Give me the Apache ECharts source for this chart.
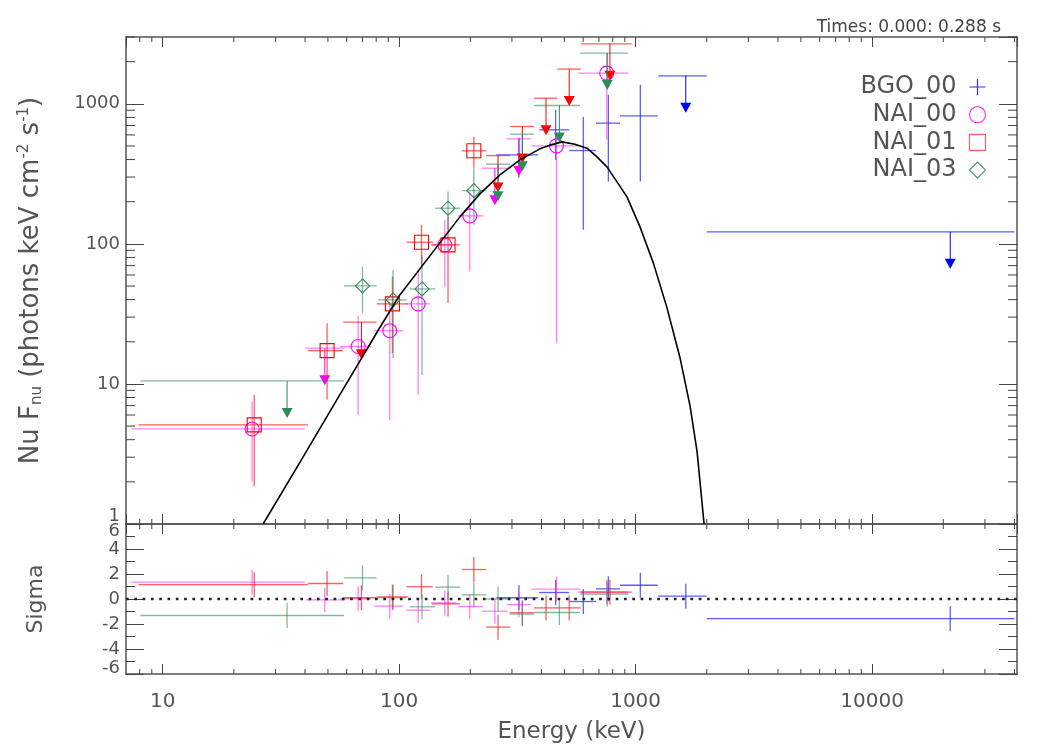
<!DOCTYPE html>
<html>
<head>
<meta charset="utf-8">
<title>Nu Fnu spectrum</title>
<script src="https://cdn.jsdelivr.net/npm/echarts@6/dist/echarts.min.js"></script>
<style>
  html, body { margin: 0; padding: 0; background: #fff; }
  #chart { width: 1050px; height: 750px; }
</style>
</head>
<body>
<div id="chart"></div>
<script>
// energy bins: [centre, low edge, high edge] (keV)
// flux rows: [value, low, high]; low === null means an upper limit at value
const bgoBins = [[321, 258, 387], [459, 391, 524], [601, 524, 680], [767, 680, 859], [1047, 859, 1240], [1630, 1247, 1999], [21400, 1999, 40000]];
const bgoFlux = [[432, 296, 572], [652, 398, 906], [464, 126, 804], [728, 279, 1159], [821, 279, 1367], [1585, null, null], [122, null, null]];
const bgoSigma = [0.1, 0.52, -0.2, 0.81, 1.1, 0.23, -1.57];

const nai00Bins = [[23.9, 7.4, 39.9], [48.5, 40.3, 58.9], [67.1, 56.3, 76], [91.3, 78.2, 104], [120.4, 107.5, 135], [156, 137, 175], [199, 178, 227], [254, 224, 288], [321, 285, 360], [463, 363, 582], [755, 572, 931]];
const nai00Flux = [[4.77, 2.0, 7.5], [18.0, null, null], [18.5, 6.0, 30.6], [24.0, 5.5, 38.7], [37.3, 8.4, 65.2], [98.4, 49.5, 148], [158.5, 63.4, 236], [347, null, null], [562, null, null], [501, 19.5, 620], [1656, 553, 2310]];
const nai00Sigma = [1.35, -0.07, 0.02, -0.57, -0.89, -0.31, -0.6, -0.98, -0.45, 0.79, 0.56];

const nai01Bins = [[24.4, 7.9, 41.2], [49.6, 41.2, 58], [69.3, 58, 80.3], [93.7, 80.3, 109], [124.4, 107.5, 139], [161, 137, 181], [207, 184, 234], [262, 233, 294], [332, 294, 372], [418, 372, 466], [524, 466, 586], [779, 586, 963]];
const nai01Flux = [[5.1, 1.85, 8.35], [17.3, 7.7, 27.1], [27.6, null, null], [37.3, 16.6, 58.4], [102.8, 68.8, 136.7], [98.4, 37.9, 157], [462, 349, 581], [427, null, null], [689, null, null], [1097, null, null], [1770, null, null], [2683, null, null]];
const nai01Sigma = [1.15, 1.24, 0.1, 0.17, 0.98, -0.39, 2.36, -2.25, -1.1, -0.71, -0.71, 0.55];

const nai03Bins = [[33.6, 8.05, 58.5], [70, 58.5, 80.3], [94.3, 81.5, 107.5], [125, 111, 142], [161, 142, 181], [207, 184, 234], [262, 233, 294], [332, 294, 372], [476, 372, 582], [759, 582, 931]];
const nai03Flux = [[10.5, null, null], [50.1, 32, 68.8], [39.8, 15.3, 65.2], [47.7, 11.6, 83.4], [179.8, 125.9, 236.5], [240, 136.7, 347], [371, null, null], [607, null, null], [973, null, null], [2302, null, null]];
const nai03Sigma = [-1.32, 1.69, 0.1, -0.62, 0.95, 0.33, 0.0, -1.2, -1.08, 0.4];

// model curve: [energy, nuFnu]
const modelCurve = [[26.6, 1], [38, 2.74], [56.1, 8.35], [82.9, 25.3], [100.7, 43.2], [134.9, 82.1], [180.7, 155.9], [219.6, 227.6], [266.9, 311], [324.2, 398], [393.9, 477], [434.3, 507], [488.2, 535], [554, 514], [622.9, 482.6], [686.5, 418], [756.8, 354.8], [919.6, 216.6], [1044, 132.2], [1188, 73.2], [1354, 35.5], [1542, 15.3], [1699, 6.97], [1819, 3.3], [1948, 1]];

const xMinorTicks = [8, 9, 20, 30, 40, 50, 60, 70, 80, 90, 200, 300, 400, 500, 600, 700, 800, 900, 2000, 3000, 4000, 5000, 6000, 7000, 8000, 9000, 20000, 30000, 40000];
const fluxMinorTicks = [2, 3, 4, 5, 6, 7, 8, 9, 20, 30, 40, 50, 60, 70, 80, 90, 200, 300, 400, 500, 600, 700, 800, 900, 2000, 3000];
const sigmaMinorTicks = [-5, -3, -1, 1, 3, 5];

const xMin = 7, xMax = 41000, fluxMin = 1, fluxMax = 3000;
const FONT = 'DejaVu Sans';
const TXT = '#555';

const detectors = [
  { name: 'BGO_00', color: '#0000ff', err: 'rgba(40,40,255,0.75)', mark: 'plus', bins: bgoBins, flux: bgoFlux, sigma: bgoSigma },
  { name: 'NAI_00', color: '#ff00ff', err: 'rgba(255,40,255,0.6)', mark: 'circle', bins: nai00Bins, flux: nai00Flux, sigma: nai00Sigma },
  { name: 'NAI_01', color: '#ff0000', err: 'rgba(255,30,30,0.7)', mark: 'square', bins: nai01Bins, flux: nai01Flux, sigma: nai01Sigma },
  { name: 'NAI_03', color: '#2e8b57', err: 'rgba(46,139,87,0.6)', mark: 'diamond', bins: nai03Bins, flux: nai03Flux, sigma: nai03Sigma }
];

const chart = echarts.init(document.getElementById('chart'), null, { renderer: 'canvas' });

function markShape(kind, color, x, y) {
  const st = { fill: 'none', stroke: color, lineWidth: 1.1 };
  if (kind === 'circle') return { type: 'circle', shape: { cx: x, cy: y, r: 7 }, style: st };
  if (kind === 'square') return { type: 'rect', shape: { x: x - 7, y: y - 7, width: 14, height: 14 }, style: st };
  if (kind === 'diamond') return { type: 'polygon', shape: { points: [[x, y - 7], [x + 7, y], [x, y + 7], [x - 7, y]] }, style: st };
  return null;
}

function pointRender(det) {
  return function (params, api) {
    const e = api.value(0), f = api.value(3);
    const c = api.coord([e, f]);
    const xl = api.coord([api.value(1), f])[0];
    const xr = api.coord([api.value(2), f])[0];
    const yt = api.coord([e, api.value(5)])[1];
    const yb = api.coord([e, api.value(4)])[1];
    const st = { stroke: det.err, lineWidth: 1.3 };
    const kids = [
      { type: 'line', shape: { x1: xl, y1: c[1], x2: xr, y2: c[1] }, style: st },
      { type: 'line', shape: { x1: c[0], y1: yt, x2: c[0], y2: yb }, style: st }
    ];
    const m = markShape(det.mark, det.color, c[0], c[1]);
    if (m) kids.push(m);
    return { type: 'group', children: kids };
  };
}

function limitRender(det) {
  return function (params, api) {
    const e = api.value(0), u = api.value(3);
    const p = api.coord([e, u]);
    const xl = api.coord([api.value(1), u])[0];
    const xr = api.coord([api.value(2), u])[0];
    const st = { stroke: det.err, lineWidth: 1.3 };
    return {
      type: 'group',
      children: [
        { type: 'line', shape: { x1: xl, y1: p[1], x2: xr, y2: p[1] }, style: st },
        { type: 'line', shape: { x1: p[0], y1: p[1], x2: p[0], y2: p[1] + 28 }, style: { stroke: det.color, lineWidth: 1 } },
        { type: 'polygon', shape: { points: [[p[0] - 5.5, p[1] + 27], [p[0] + 5.5, p[1] + 27], [p[0], p[1] + 37]] }, style: { fill: det.color } }
      ]
    };
  };
}

function residRender(det) {
  return function (params, api) {
    const e = api.value(0), s = api.value(3);
    const c = api.coord([e, s]);
    const xl = api.coord([api.value(1), s])[0];
    const xr = api.coord([api.value(2), s])[0];
    const yt = api.coord([e, s + 1])[1];
    const yb = api.coord([e, s - 1])[1];
    const st = { stroke: det.err, lineWidth: 1.3 };
    return {
      type: 'group',
      children: [
        { type: 'line', shape: { x1: xl, y1: c[1], x2: xr, y2: c[1] }, style: st },
        { type: 'line', shape: { x1: c[0], y1: yt, x2: c[0], y2: yb }, style: st }
      ]
    };
  };
}

// minor ticks on top & bottom (x) or left & right (y) of a grid
function xTickRender(len) {
  return function (params, api) {
    const cs = params.coordSys;
    const x = api.coord([api.value(0), api.value(1)])[0];
    const st = { stroke: '#444', lineWidth: 1 };
    return {
      type: 'group',
      children: [
        { type: 'line', shape: { x1: x, y1: cs.y, x2: x, y2: cs.y + len }, style: st },
        { type: 'line', shape: { x1: x, y1: cs.y + cs.height, x2: x, y2: cs.y + cs.height - len }, style: st }
      ]
    };
  };
}
function yTickRender(len) {
  return function (params, api) {
    const cs = params.coordSys;
    const y = api.coord([api.value(0), api.value(1)])[1];
    const st = { stroke: '#444', lineWidth: 1 };
    return {
      type: 'group',
      children: [
        { type: 'line', shape: { x1: cs.x, y1: y, x2: cs.x + len, y2: y }, style: st },
        { type: 'line', shape: { x1: cs.x + cs.width, y1: y, x2: cs.x + cs.width - len, y2: y }, style: st }
      ]
    };
  };
}

const series = [];
detectors.forEach(function (det) {
  const pts = [], uls = [], res = [];
  det.bins.forEach(function (b, i) {
    const fl = det.flux[i];
    if (fl[1] === null) uls.push([b[0], b[1], b[2], fl[0]]);
    else pts.push([b[0], b[1], b[2], fl[0], fl[1], fl[2]]);
    res.push([b[0], b[1], b[2], det.sigma[i]]);
  });
  series.push({ name: det.name, type: 'custom', xAxisIndex: 0, yAxisIndex: 0, renderItem: pointRender(det), data: pts, encode: { x: 0, y: 3 }, silent: true });
  series.push({ name: det.name, type: 'custom', xAxisIndex: 0, yAxisIndex: 0, renderItem: limitRender(det), data: uls, encode: { x: 0, y: 3 }, silent: true });
  series.push({ name: det.name, type: 'custom', xAxisIndex: 2, yAxisIndex: 2, renderItem: residRender(det), data: res, encode: { x: 0, y: 3 }, silent: true });
});

series.push({
  type: 'line', xAxisIndex: 0, yAxisIndex: 0, data: modelCurve, showSymbol: false, smooth: false,
  lineStyle: { color: '#000', width: 1.6, join: 'round' }, z: 5, silent: true
});
series.push({
  type: 'line', xAxisIndex: 2, yAxisIndex: 2, data: [[xMin, 0], [xMax, 0]], showSymbol: false,
  lineStyle: { color: '#222', width: 2.7, type: [2.7, 5.6] }, silent: true
});
series.push({ type: 'custom', xAxisIndex: 0, yAxisIndex: 0, renderItem: xTickRender(5), data: xMinorTicks.map(v => [v, 10]), silent: true });
series.push({ type: 'custom', xAxisIndex: 2, yAxisIndex: 2, renderItem: xTickRender(5), data: xMinorTicks.map(v => [v, 0]), silent: true });
series.push({ type: 'custom', xAxisIndex: 0, yAxisIndex: 0, renderItem: yTickRender(9), data: fluxMinorTicks.map(v => [10, v]), silent: true });
series.push({ type: 'custom', xAxisIndex: 2, yAxisIndex: 2, renderItem: yTickRender(9), data: sigmaMinorTicks.map(v => [10, v]), silent: true });

const lineSt = { color: '#555', width: 1.5 };
function xAxis(grid, pos, labels) {
  const ax = {
    gridIndex: grid, type: 'log', min: xMin, max: xMax, position: pos,
    axisLine: { onZero: false, lineStyle: lineSt },
    axisTick: { inside: true, length: 10, lineStyle: { color: '#444', width: 1 } },
    axisLabel: { show: false },
    splitLine: { show: false }
  };
  if (labels) {
    ax.axisLabel = {
      show: true, margin: 18, showMinLabel: false, showMaxLabel: false,
      fontFamily: FONT, fontSize: 20, color: TXT,
      formatter: v => String(Math.round(v))
    };
    ax.name = 'Energy (keV)';
    ax.nameLocation = 'middle';
    ax.nameGap = 47;
    ax.nameTextStyle = { fontFamily: FONT, fontSize: 23, color: TXT };
  }
  return ax;
}

const option = {
  animation: false,
  backgroundColor: '#fff',
  title: {
    text: 'Times: 0.000: 0.288 s', right: 44, top: 14,
    textStyle: { fontFamily: FONT, fontSize: 17, fontWeight: 'normal', color: '#444' }
  },
  legend: {
    orient: 'vertical', align: 'right', right: 62, top: 75, padding: 0,
    itemWidth: 16, itemHeight: 16, itemGap: 3.7, selectedMode: false,
    textStyle: { fontFamily: FONT, fontSize: 24, color: TXT, lineHeight: 24, padding: [0, 8, 0, 0] },
    data: [
      { name: 'BGO_00', icon: 'path://M8,0L8,16M0,8L16,8', itemStyle: { color: 'none', borderColor: '#3030ff', borderWidth: 1.2 } },
      { name: 'NAI_00', icon: 'circle', itemStyle: { color: 'none', borderColor: '#ff30ff', borderWidth: 1.2 } },
      { name: 'NAI_01', icon: 'rect', itemStyle: { color: 'none', borderColor: '#ff6060', borderWidth: 1.2 } },
      { name: 'NAI_03', icon: 'diamond', itemStyle: { color: 'none', borderColor: '#4a9a70', borderWidth: 1.2 } }
    ]
  },
  grid: [
    { left: 126, width: 891, top: 37, height: 487 },
    { left: 126, width: 891, top: 524, height: 150 }
  ],
  xAxis: [xAxis(0, 'bottom', false), xAxis(0, 'top', false), xAxis(1, 'bottom', true), xAxis(1, 'top', false)],
  yAxis: [
    {
      gridIndex: 0, type: 'log', min: fluxMin, max: fluxMax, position: 'left',
      axisLine: { onZero: false, lineStyle: lineSt },
      axisTick: { inside: true, length: 18, lineStyle: { color: '#444', width: 1 } },
      splitLine: { show: false },
      axisLabel: {
        margin: 6, showMaxLabel: false, fontFamily: FONT, fontSize: 18, color: TXT,
        formatter: v => { const s = String(Math.round(v)); return s === '1' ? '{lo|1}' : s; },
        rich: { lo: { fontFamily: FONT, fontSize: 18, color: TXT, padding: [0, 0, 16, 0] } }
      },
      name: 'Nu F{sub|nu} (photons keV cm{sup|-2} s{sup|-1})',
      nameLocation: 'middle', nameRotate: 90, nameGap: 80,
      nameTextStyle: {
        fontFamily: FONT, fontSize: 26, color: TXT,
        rich: {
          sub: { fontFamily: FONT, fontSize: 15, color: TXT, padding: [12, 0, 0, 0] },
          sup: { fontFamily: FONT, fontSize: 15, color: TXT, padding: [0, 0, 14, 0] }
        }
      }
    },
    {
      gridIndex: 0, type: 'log', min: fluxMin, max: fluxMax, position: 'right',
      axisLine: { onZero: false, lineStyle: lineSt },
      axisTick: { inside: true, length: 18, lineStyle: { color: '#444', width: 1 } },
      axisLabel: { show: false }, splitLine: { show: false }
    },
    {
      gridIndex: 1, type: 'value', min: -6, max: 6, interval: 2, position: 'left',
      axisLine: { onZero: false, lineStyle: lineSt },
      axisTick: { inside: true, length: 18, lineStyle: { color: '#444', width: 1 } },
      splitLine: { show: false },
      axisLabel: {
        margin: 6, fontFamily: FONT, fontSize: 18, color: TXT,
        formatter: v => v === 6 ? '{dn|6}' : (v === -6 ? '{up|-6}' : String(v)),
        rich: {
          dn: { fontFamily: FONT, fontSize: 18, color: TXT, padding: [14, 0, 0, 0] },
          up: { fontFamily: FONT, fontSize: 18, color: TXT, padding: [0, 0, 12, 0] }
        }
      },
      name: 'Sigma', nameLocation: 'middle', nameRotate: 90, nameGap: 79,
      nameTextStyle: { fontFamily: FONT, fontSize: 22, color: TXT }
    },
    {
      gridIndex: 1, type: 'value', min: -6, max: 6, interval: 2, position: 'right',
      axisLine: { onZero: false, lineStyle: lineSt },
      axisTick: { inside: true, length: 18, lineStyle: { color: '#444', width: 1 } },
      axisLabel: { show: false }, splitLine: { show: false }
    }
  ],
  series: series
};

chart.setOption(option);
</script>
</body>
</html>
